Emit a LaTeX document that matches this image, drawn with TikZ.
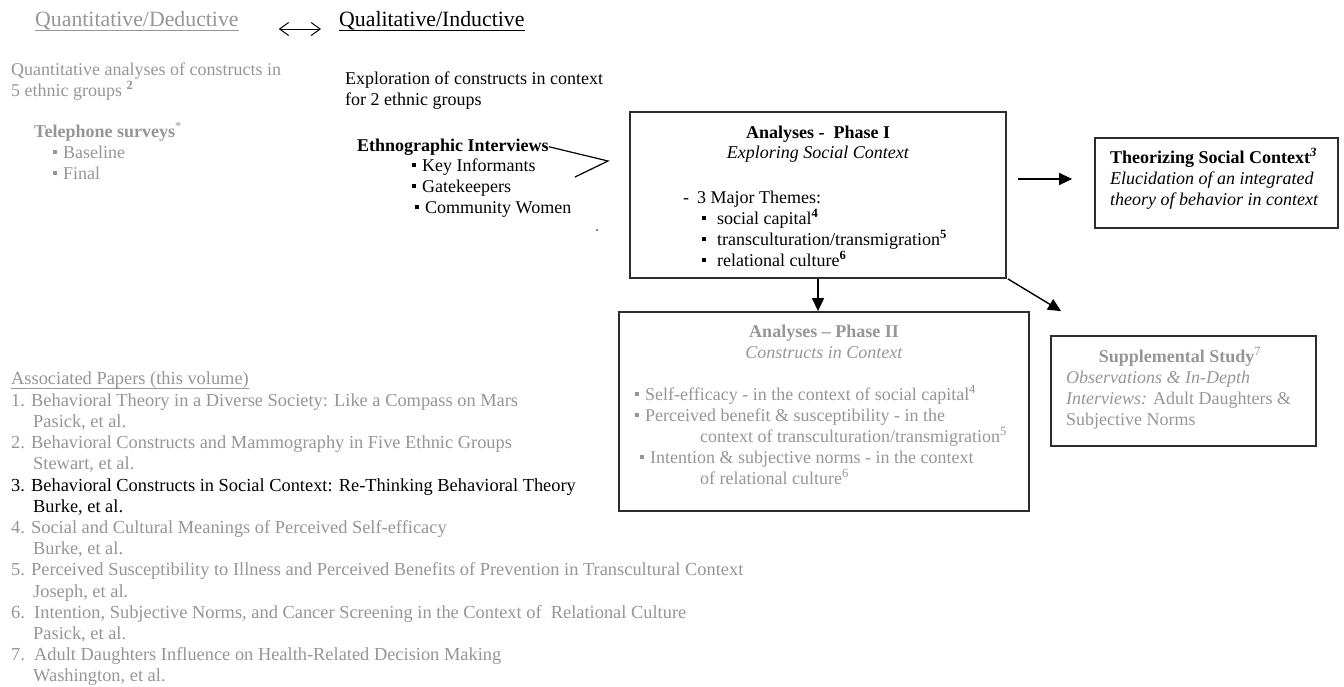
\documentclass[tikz,border=0pt]{standalone}
\usepackage{fontspec}
\setmainfont{Liberation Serif}
\usetikzlibrary{arrows.meta,positioning}

\definecolor{lightgrey}{RGB}{150,150,150}
\definecolor{boxline}{RGB}{45,45,45}
\newcommand{\fs}{\fontsize{18}{21}\selectfont}
\newcommand{\fl}{\rule{0pt}{15pt}}
\newcommand{\sq}{\rule[4pt]{4pt}{4pt}\hspace{6pt}}
\newcommand{\sqw}{\rule[4pt]{4pt}{4pt}\hspace{11pt}}

\begin{document}
\begin{tikzpicture}[x=1pt,y=-1pt,
  line/.style={inner sep=0pt,anchor=base west,font=\fs},
  head/.style={inner sep=0pt,anchor=base west,font=\fontsize{21.8}{24}\selectfont},
  mid/.style={inner sep=0pt,anchor=base,font=\fs},
  blk/.style={inner sep=0pt,anchor=north west,align=left,font=\fs},
  box/.style={draw=boxline,line width=1.8pt,inner sep=0pt},
  arr/.style={line width=1.4pt,-{Triangle[length=13pt,width=12pt]}}]
  \useasboundingbox (0,0) rectangle (1344,686);
  \fill[white] (0,0) rectangle (1344,686);

  % headings
  \node[head,lightgrey] (qd) at (35,26) {Quantitative/Deductive};
  \node[head] (ql) at (339,26) {Qualitative/Inductive};
  \draw[lightgrey,line width=1pt] ([yshift=-4pt]qd.base west) -- ([yshift=-4pt]qd.base east);
  \draw[line width=1pt] ([yshift=-4pt]ql.base west) -- ([yshift=-4pt]ql.base east);
  \draw[line width=1pt,{Straight Barb[length=9pt,width=13pt]}-{Straight Barb[length=9pt,width=13pt]}]
    ([shift={(40,3)}]qd.base east) -- ([shift={(-18,3)}]ql.base west);

  % quantitative side
  \node[blk,lightgrey] (qa) at (11,60) {\fl Quantitative analyses of constructs in\\
    5 ethnic groups \textsuperscript{\textbf{2}}};
  \node[blk,lightgrey] (tel) at (34,122) {\fl\textbf{Telephone surveys}\textsuperscript{*}\\
    \hspace*{19pt}\sq Baseline\\
    \hspace*{19pt}\sq Final};

  % qualitative side
  \node[blk] (expl) at (345,69) {\fl Exploration of constructs in context\\
    for 2 ethnic groups};
  \node[line] (eth) at (357,151) {\textbf{Ethnographic Interviews}};
  \node[blk] (ethlist) at (412,156) {\fl\sq Key Informants\\
    \sq Gatekeepers\\
    \hspace*{3pt}\sq Community Women};
  \coordinate (apex) at (608,161);
  \coordinate (tail) at (575,177);
  \draw[line width=1.2pt] (eth.east) -- (apex) -- (tail);
  \fill (597,230) circle (0.9);

  % phase I
  \node[box,minimum width=376,minimum height=166] (ph1) at (818,195) {};
  \node[mid] (ph1t) at (818,138) {\textbf{Analyses -\ \ Phase I}};
  \node[mid] (ph1s) at (818,158) {\textit{Exploring Social Context}};
  \node[blk] (themes) at (683,188) {\fl -\hspace{8pt}3 Major Themes:\\
    \hspace*{19pt}\sqw social capital\textsuperscript{\textbf{4}}\\
    \hspace*{19pt}\sqw transculturation/transmigration\textsuperscript{\textbf{5}}\\
    \hspace*{19pt}\sqw relational culture\textsuperscript{\textbf{6}}};

  % theorizing
  \node[box,minimum width=243,minimum height=90] (thr) at (1216.5,183) {};
  \node[blk] (thrtxt) at (1110,148) {\fl\textbf{Theorizing Social Context}\textsuperscript{\textbf{\textit{3}}}\\
    \textit{Elucidation of an integrated}\\
    \textit{theory of behavior in context}};

  % phase II
  \node[box,minimum width=410,minimum height=199] (ph2) at (824,411.5) {};
  \node[mid,lightgrey] (ph2t) at (824,337) {\textbf{Analyses -- Phase II}};
  \node[mid,lightgrey] (ph2s) at (824,358) {\textit{Constructs in Context}};
  \node[blk,lightgrey] (constr) at (635,385) {\fl\sq Self-efficacy - in the context of social capital\textsuperscript{4}\\
    \sq Perceived benefit \& susceptibility - in the\\
    \hspace*{65pt}context of transculturation/transmigration\textsuperscript{5}\\
    \hspace*{5pt}\sq Intention \& subjective norms - in the context\\
    \hspace*{65pt}of relational culture\textsuperscript{6}};

  % supplemental
  \node[box,minimum width=265,minimum height=110] (sup) at (1183.5,391) {};
  \node[mid,lightgrey] (supt) at (1180,362) {\textbf{Supplemental Study}\textsuperscript{7}};
  \node[blk,lightgrey] (suptxt) at (1066,368) {\fl\textit{Observations \& In-Depth}\\
    \textit{Interviews:} Adult Daughters \&\\
    Subjective Norms};

  % connectors
  \draw[arr] (ph1.south) -- (ph1.south |- ph2.north);
  \draw[arr] ([shift={(11,-16)}]ph1.east) -- ([shift={(-22,-4)}]thr.west);
  \draw[arr] ([xshift=1pt]ph1.south east) -- ([shift={(11,-24)}]sup.north west);

  % papers
  \node[line,lightgrey,font=\fontsize{18.4}{21}\selectfont] (ap) at (11,384) {Associated Papers (this volume)};
  \draw[lightgrey,line width=1pt] ([yshift=-4pt]ap.base west) -- ([yshift=-4pt]ap.base east);
  \node[blk,lightgrey,font=\fontsize{18.4}{21.2}\selectfont] (papers) at (11,391) {\fl 1. Behavioral Theory in a Diverse Society: Like a Compass on Mars\\
    \hspace*{22pt}Pasick, et al.\\
    2. Behavioral Constructs and Mammography in Five Ethnic Groups\\
    \hspace*{22pt}Stewart, et al.\\
    \textcolor{black}{3. Behavioral Constructs in Social Context: Re-Thinking Behavioral Theory}\\
    \hspace*{22pt}\textcolor{black}{Burke, et al.}\\
    4. Social and Cultural Meanings of Perceived Self-efficacy\\
    \hspace*{22pt}Burke, et al.\\
    5. Perceived Susceptibility to Illness and Perceived Benefits of Prevention in Transcultural Context\\
    \hspace*{22pt}Joseph, et al.\\
    6.\ \ Intention, Subjective Norms, and Cancer Screening in the Context of\ \ Relational Culture\\
    \hspace*{22pt}Pasick, et al.\\
    7.\ \ Adult Daughters Influence on Health-Related Decision Making\\
    \hspace*{22pt}Washington, et al.};
\end{tikzpicture}
\end{document}
